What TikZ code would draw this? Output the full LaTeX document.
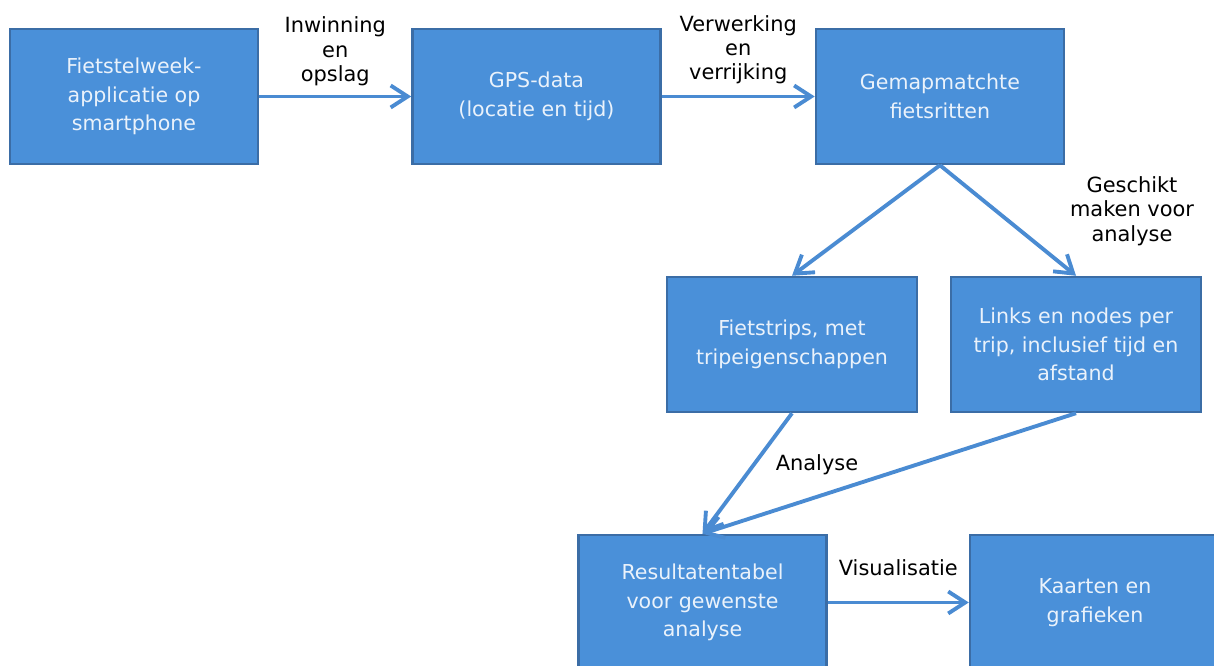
\documentclass[tikz,border=0pt]{standalone}
\usepackage{fontspec}
\setmainfont{DejaVu Sans}
\usepackage{xcolor}
\definecolor{fsBlue}{HTML}{4A90D9}
\definecolor{fsBlueDark}{HTML}{3B6DA6}
\definecolor{fsArrow}{HTML}{4A8BD2}
\definecolor{fsText}{HTML}{EAF2FB}
\usetikzlibrary{arrows.meta,positioning,calc}

\begin{document}
\begin{tikzpicture}[
    box/.style={draw=fsBlueDark, line width=1.4pt, fill=fsBlue, minimum width=4.96cm, minimum height=2.7cm, align=center, text=fsText, font=\fontsize{11.7}{16.4}\selectfont},
    lbl/.style={align=center, text=black, font=\fontsize{11.9}{13.8}\selectfont, inner sep=1pt},
    arr/.style={-{Straight Barb[length=3.4mm,width=4.4mm]}, line width=2.2pt, fsArrow}
  ]
    \useasboundingbox (0,0) rectangle (24.28,13.32);
    \clip (0,0) rectangle (24.28,13.32);
    % top row
    \node[box] (app) at (2.68,11.39) {Fietstelweek-\\applicatie op\\smartphone};
    \node[box, right=3.04cm of app] (gps) {GPS-data\\(locatie en tijd)};
    \node[box, right=3.06cm of gps] (ritten) {Gemapmatchte\\fietsritten};
    % middle row
    \node[box, minimum width=5cm] (trips) at (15.84,6.43) {Fietstrips, met\\tripeigenschappen};
    \node[box, minimum width=5cm] (links) at (21.52,6.43) {Links en nodes per\\trip, inclusief tijd en\\afstand};
    % bottom row
    \node[box] (tabel) at (14.05,1.27) {Resultatentabel\\voor gewenste\\analyse};
    \node[box, minimum width=5cm] (kaart) at (21.9,1.27) {Kaarten en\\grafieken};
    % labels
    \node[lbl] (geschikt) at (22.64,9.10) {Geschikt\\maken voor\\analyse};
    \node[lbl] (analyse) at (16.34,4.02) {Analyse};
    % connectors
    \draw[arr] (app) -- node[lbl, above=4pt] (inwinning) {Inwinning\\en\\opslag} (gps);
    \draw[arr] (gps) -- node[lbl, above=5pt] (verwerking) {Verwerking\\en\\verrijking} (ritten);
    \draw[arr] (ritten.south) -- (trips.north);
    \draw[arr] (ritten.south) -- (links.north);
    \draw[arr] (trips.south) -- (tabel.north);
    \draw[arr] (links.south) -- (tabel.north);
    \draw[arr] (tabel) -- node[lbl, above=13pt] (visualisatie) {Visualisatie} (kaart);
  \end{tikzpicture}
\end{document}
